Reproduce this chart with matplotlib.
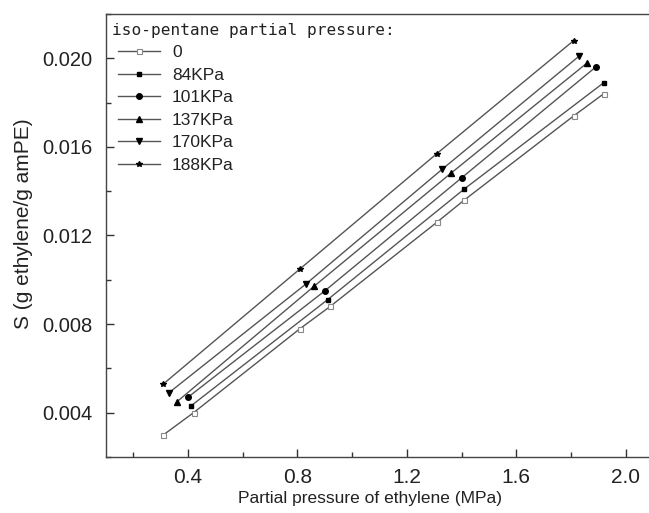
import matplotlib
matplotlib.use("Agg")
import matplotlib.pyplot as plt
from matplotlib.ticker import MultipleLocator
from matplotlib.lines import Line2D

plt.rcParams['font.family'] = ['Liberation Sans', 'DejaVu Sans']

labels = ["0", "84KPa", "101KPa", "137KPa", "170KPa", "188KPa"]
x_0 = [0.31, 0.42, 0.81, 0.92, 1.31, 1.41, 1.81, 1.92]
y_0 = [0.0030, 0.0040, 0.0078, 0.0088, 0.0126, 0.0136, 0.0174, 0.0184]
x_84 = [0.41, 0.91, 1.41, 1.92]
y_84 = [0.0043, 0.0091, 0.0141, 0.0189]
x_101 = [0.40, 0.90, 1.40, 1.89]
y_101 = [0.0047, 0.0095, 0.0146, 0.0196]
x_137 = [0.36, 0.86, 1.36, 1.86]
y_137 = [0.0045, 0.0097, 0.0148, 0.0198]
x_170 = [0.33, 0.83, 1.33, 1.83]
y_170 = [0.0049, 0.0098, 0.0150, 0.0201]
x_188 = [0.31, 0.81, 1.31, 1.81]
y_188 = [0.0053, 0.0105, 0.0157, 0.0208]

xs = [x_0, x_84, x_101, x_137, x_170, x_188]
ys = [y_0, y_84, y_101, y_137, y_170, y_188]

fig = plt.figure(figsize=(6.49, 5.13), dpi=100)
ax = fig.add_axes([106/649, 1-457/513, (653-106)/649, (457-14)/513])

styles = [
    dict(marker='s', markersize=3.6, markerfacecolor='white', markeredgecolor='#888888', markeredgewidth=0.8),
    dict(marker='s', markersize=3.4, markerfacecolor='black', markeredgecolor='black'),
    dict(marker='o', markersize=4.0, markerfacecolor='black', markeredgecolor='black'),
    dict(marker='^', markersize=4.3, markerfacecolor='black', markeredgecolor='black'),
    dict(marker='v', markersize=4.3, markerfacecolor='black', markeredgecolor='black'),
    dict(marker='*', markersize=4.0, markerfacecolor='black', markeredgecolor='black'),
]

handles = []
for x, y, st, lab in zip(xs, ys, styles, labels):
    ax.plot(x, y, color='#555555', linewidth=1.0, **st)
    handles.append(Line2D([], [], color='#555555', linewidth=1.0, label=lab, **st))

ax.set_xlim(0.1, 2.1)
ax.set_ylim(0.002, 0.022)
ax.xaxis.set_minor_locator(MultipleLocator(0.2))
ax.yaxis.set_minor_locator(MultipleLocator(0.002))
ax.set_xticks([0.4, 0.8, 1.2, 1.6, 2.0])
ax.set_xticklabels(["0.4", "0.8", "1.2", "1.6", "2.0"])
ax.set_yticks([0.004, 0.008, 0.012, 0.016, 0.020])
ax.set_yticklabels(["0.004", "0.008", "0.012", "0.016", "0.020"])
ax.tick_params(which='major', direction='in', length=6, width=1, colors='#333333', labelcolor='#222222')
ax.tick_params(which='minor', direction='in', length=3.5, width=1, colors='#333333')
ax.tick_params(axis='y', pad=10, labelsize=14.5)
ax.tick_params(axis='x', pad=8, labelsize=15)
for s in ax.spines.values():
    s.set_color('#444444')
    s.set_linewidth(1.0)

ax.set_xlabel("Partial pressure of ethylene (MPa)", fontsize=12.5, color='#222222')
ax.set_ylabel("S (g ethylene/g amPE)", fontsize=15, color='#222222')
ax.xaxis.set_label_coords((370-106)/(653-106), -0.077)
ax.yaxis.set_label_coords(-(106-33)/(653-106), (457-224)/(457-14))

fig.text(112/649, 1-30/513, "iso-pentane partial pressure:", family='DejaVu Sans Mono',
         fontsize=11.6, color='#222222', va='center', ha='left')
leg = ax.legend(handles=handles, loc='upper left', frameon=False, fontsize=12.5,
                bbox_to_anchor=(0.0, 0.957), handlelength=2.4, handletextpad=0.7,
                labelspacing=0.42, borderaxespad=0.3, labelcolor='#222222')

fig.savefig("out.png", dpi=100)
